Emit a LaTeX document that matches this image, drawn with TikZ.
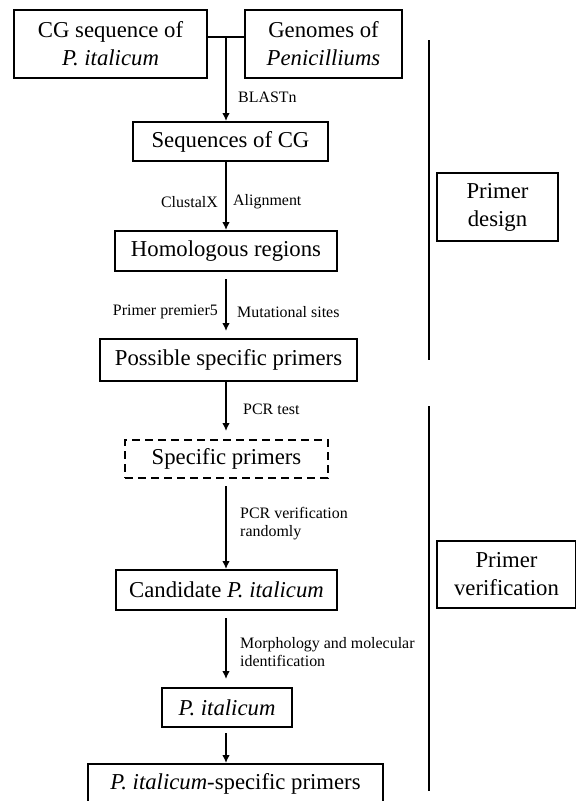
\documentclass[tikz,border=0pt]{standalone}
\usepackage{fontspec}
\setmainfont{Liberation Serif}
\usetikzlibrary{arrows.meta}
\tikzset{
	proc/.style={rectangle, inner sep=0pt, align=center, text centered, draw=black, line width=1.7pt, font=\fontsize{19.4}{24}\selectfont},
	procd/.style={proc, dash pattern=on 6.8pt off 4.3pt},
	lbl/.style={inner sep=0pt, align=left, font=\fontsize{13.6}{15.3}\selectfont},
	arrow/.style={line width=1.3pt,-{Latex[length=2.4mm,width=2.3mm]}},
	bar/.style={line width=1.7pt},
}

\begin{document}
\begin{tikzpicture}[x=0.03cm,y=-0.03cm]
\useasboundingbox (0,0) rectangle (575,801);

% top row
\node [proc, minimum width=5.79cm, minimum height=2.04cm] (cg) at (110.5,44) {CG sequence of\\\textit{P. italicum}};
\node [proc, minimum width=4.71cm, minimum height=2.04cm] (gen) at (323.5,44) {Genomes of\\\textit{Penicilliums}};
\coordinate (jn) at (226,37);
\draw [line width=1.3pt] (cg.east |- jn) -- (gen.west |- jn);

% main chain
\node [proc, minimum width=5.85cm, minimum height=1.17cm] (seq) at (230.5,141.5) {Sequences of CG};
\node [proc, minimum width=6.66cm, minimum height=1.2cm] (hom) at (226,251) {Homologous regions};
\node [proc, minimum width=7.71cm, minimum height=1.26cm] (poss) at (228.5,360) {Possible specific primers};
\node [procd, minimum width=6.09cm, minimum height=1.14cm] (spec) at (226.5,459) {Specific primers};
\node [proc, minimum width=6.63cm, minimum height=1.2cm] (cand) at (226.5,590) {Candidate \textit{P. italicum}};
\node [proc, minimum width=3.9cm, minimum height=1.17cm] (pit) at (227,707.5) {\textit{P. italicum}};
\node [proc, minimum width=8.85cm, minimum height=1.2cm] (fin) at (235.5,784) {\textit{P. italicum}-specific primers};

\draw [arrow] (jn) -- (seq.north -| jn);
\draw [arrow] (seq.south -| jn) -- (hom.north -| jn);
\draw [arrow, shorten <=0.21cm, shorten >=0.21cm] (hom.south -| jn) -- (poss.north -| jn);
\draw [arrow, shorten >=0.24cm] (poss.south -| jn) -- (spec.north -| jn);
\draw [arrow, shorten <=0.21cm] (spec.south -| jn) -- (cand.north -| jn);
\draw [arrow, shorten <=0.21cm, shorten >=0.24cm] (cand.south -| jn) -- (pit.north -| jn);
\draw [arrow, shorten <=0.15cm] (pit.south -| jn) -- (fin.north -| jn);

% arrow labels
\node [lbl, anchor=west] (blast) at (238,97) {BLASTn};
\node [lbl, anchor=east] (clus) at (218,202) {ClustalX};
\node [lbl, anchor=west] (align) at (233,202) {Alignment};
\node [lbl, anchor=east] (prem) at (218,312) {Primer premier5};
\node [lbl, anchor=west] (mut) at (237,312) {Mutational sites};
\node [lbl, anchor=west] (pcr) at (243,409) {PCR test};
\node [lbl, anchor=west] (ver) at (240,524) {PCR verification\\randomly};
\node [lbl, anchor=west] (morph) at (240,652.5) {Morphology and molecular\\identification};

% stages
\coordinate (d1) at (429,40);
\coordinate (d2) at (429,360);
\coordinate (v1) at (429,406);
\coordinate (v2) at (429,791);
\draw [bar] (d1) -- (d2);
\draw [bar] (v1) -- (v2);
\node [proc, minimum width=3.63cm, minimum height=2.04cm] (des) at (497.5,207) {Primer\\design};
\node [proc, minimum width=4.17cm, minimum height=2.01cm] (verif) at (506.5,574.5) {Primer\\verification};
\end{tikzpicture}
\end{document}
